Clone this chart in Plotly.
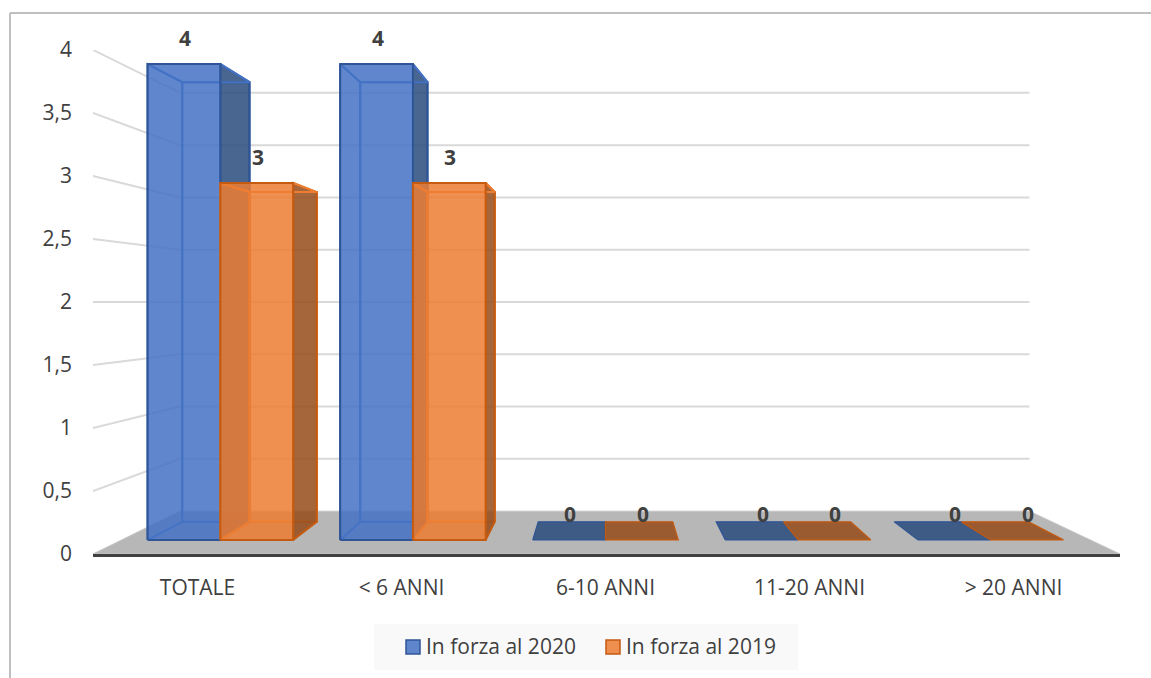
import plotly.graph_objects as go

categories = ['TOTALE', '< 6 ANNI', '6-10 ANNI', '11-20 ANNI', '> 20 ANNI']
values_2020 = [4, 4, 0, 0, 0]
values_2019 = [3, 3, 0, 0, 0]
series_names = ['In forza al 2020', 'In forza al 2019']
y_ticks = [0, 0.5, 1, 1.5, 2, 2.5, 3, 3.5, 4]

W, H = 1151, 678
PLOT_L, PLOT_R, PLOT_T, PLOT_B = 93, 1120, 50, 554
X_RANGE = [-0.5123, 4.5221]
Y_RANGE = [0, 4]
TEXT = '#404040'
FONT = 'Open Sans'

# fake 3d: depth is a scale towards the vanishing point, in axis units
VANISH_C, VANISH_V = 2, 2
BAR_FRONT, BAR_BACK, WALL_BACK = 0.944, 0.8725, 0.83
WALL_RIGHT = X_RANGE[1] - 0.018
BAR_W = 0.378

NO_FILL = 'rgba(0,0,0,0)'
BLUE = dict(face='rgba(68,114,196,0.85)', side='rgba(40,75,125,0.85)', edge='#2F5597', back='#4472C4')
ORANGE = dict(face='rgba(237,125,49,0.85)', side='rgba(150,75,25,0.85)', edge='#C55A11', back='#ED7D31')


def project(c, v, s):
    return VANISH_C + s * (c - VANISH_C), VANISH_V + s * (v - VANISH_V)


def px_x(p):
    return (p - PLOT_L) / (PLOT_R - PLOT_L)


def px_y(p):
    return (PLOT_B - p) / (PLOT_B - PLOT_T)


fig = go.Figure()


def polygon(points, fill, line, width=2):
    xs, ys = zip(*points)
    fig.add_trace(go.Scatter(
        x=list(xs) + [xs[0]], y=list(ys) + [ys[0]],
        mode='lines', fill='toself', fillcolor=fill,
        line=dict(color=line, width=width),
        hoverinfo='skip', showlegend=False, cliponaxis=False
    ))


def wall_line(points):
    xs, ys = zip(*points)
    fig.add_trace(go.Scatter(
        x=xs, y=ys, mode='lines', line=dict(color='#d9d9d9', width=2),
        hoverinfo='skip', showlegend=False, cliponaxis=False
    ))


# walls
for tick in y_ticks[1:]:
    wall_line([project(X_RANGE[0], tick, 1), project(X_RANGE[0], tick, WALL_BACK), project(WALL_RIGHT, tick, WALL_BACK)])

# floor
polygon([project(X_RANGE[0], 0, 1), project(X_RANGE[1], 0, 1),
         project(WALL_RIGHT, 0, WALL_BACK), project(X_RANGE[0], 0, WALL_BACK)], '#b7b7b7', '#c4c4c4', 1)


def bar(c0, c1, v, col):
    if v == 0:
        polygon([project(c0, 0, BAR_FRONT), project(c1, 0, BAR_FRONT),
                 project(c1, 0, BAR_BACK), project(c0, 0, BAR_BACK)], col['side'], col['edge'], 1.2)
        return
    # top is above the horizon so it falls inside the front face: hidden faces only get edges
    polygon([project(c0, 0, BAR_BACK), project(c1, 0, BAR_BACK), project(c1, v, BAR_BACK), project(c0, v, BAR_BACK)], NO_FILL, col['back'])
    polygon([project(c0, 0, BAR_FRONT), project(c0, v, BAR_FRONT), project(c0, v, BAR_BACK), project(c0, 0, BAR_BACK)], NO_FILL, col['back'])
    polygon([project(c1, 0, BAR_FRONT), project(c1, v, BAR_FRONT), project(c1, v, BAR_BACK), project(c1, 0, BAR_BACK)], col['side'], col['edge'])
    polygon([project(c0, v, BAR_FRONT), project(c1, v, BAR_FRONT), project(c1, v, BAR_BACK), project(c0, v, BAR_BACK)], NO_FILL, col['back'])
    polygon([project(c0, 0, BAR_FRONT), project(c1, 0, BAR_FRONT), project(c1, v, BAR_FRONT), project(c0, v, BAR_FRONT)], col['face'], col['edge'])


for i in range(len(categories)):
    bar(i - BAR_W, i, values_2020[i], BLUE)
    bar(i, i + BAR_W, values_2019[i], ORANGE)

# data labels sit above the middle of the front face
for i in range(len(categories)):
    for v, c in ((values_2020[i], i - BAR_W / 2), (values_2019[i], i + BAR_W / 2)):
        x, y = project(c, v, BAR_FRONT)
        fig.add_annotation(x=x, y=y, text=f'<b>{v}</b>', showarrow=False, yshift=26, xshift=1,
                           font=dict(family=FONT, size=21, color=TEXT))

# frame + legend
shapes = [
    dict(type='line', xref='paper', yref='paper', x0=px_x(10), x1=px_x(W), y0=px_y(13), y1=px_y(13), line=dict(color='#bfbfbf', width=2)),
    dict(type='line', xref='paper', yref='paper', x0=px_x(10), x1=px_x(10), y0=px_y(13), y1=px_y(H), line=dict(color='#bfbfbf', width=2)),
    dict(type='rect', xref='paper', yref='paper', x0=px_x(374), x1=px_x(798), y0=px_y(624), y1=px_y(670), fillcolor='#f9f9f9', line=dict(width=0)),
]
for name, col, sx in zip(series_names, (BLUE, ORANGE), (406, 606)):
    shapes.append(dict(type='rect', xref='paper', yref='paper', x0=px_x(sx), x1=px_x(sx + 14), y0=px_y(640), y1=px_y(654),
                       fillcolor=col['face'], line=dict(color=col['edge'], width=1.5)))
    fig.add_annotation(xref='paper', yref='paper', x=px_x(sx + 18), y=px_y(646), text=name, showarrow=False,
                       xanchor='left', yanchor='middle', font=dict(family=FONT, size=21, color=TEXT))

fig.update_layout(
    width=W, height=H,
    margin=dict(l=PLOT_L, r=W - PLOT_R, t=PLOT_T, b=H - PLOT_B, pad=0),
    paper_bgcolor='white', plot_bgcolor='white',
    separators=',.',
    showlegend=False,
    shapes=shapes,
    font=dict(family=FONT, size=21, color=TEXT),
    xaxis=dict(range=X_RANGE, tickmode='array', tickvals=list(range(len(categories))), ticktext=categories,
               showgrid=False, zeroline=False, showline=True, linecolor='#404040', linewidth=3,
               ticks='', ticklabelstandoff=13, tickfont=dict(family=FONT, size=21, color=TEXT)),
    yaxis=dict(range=Y_RANGE, tickmode='array', tickvals=y_ticks, showgrid=False, zeroline=False, showline=False,
               ticks='', ticklabelstandoff=20, tickfont=dict(family=FONT, size=21, color=TEXT)),
)

fig.write_html("out.html", post_script="document.body.style.margin='0';", config=dict(displayModeBar=False))
